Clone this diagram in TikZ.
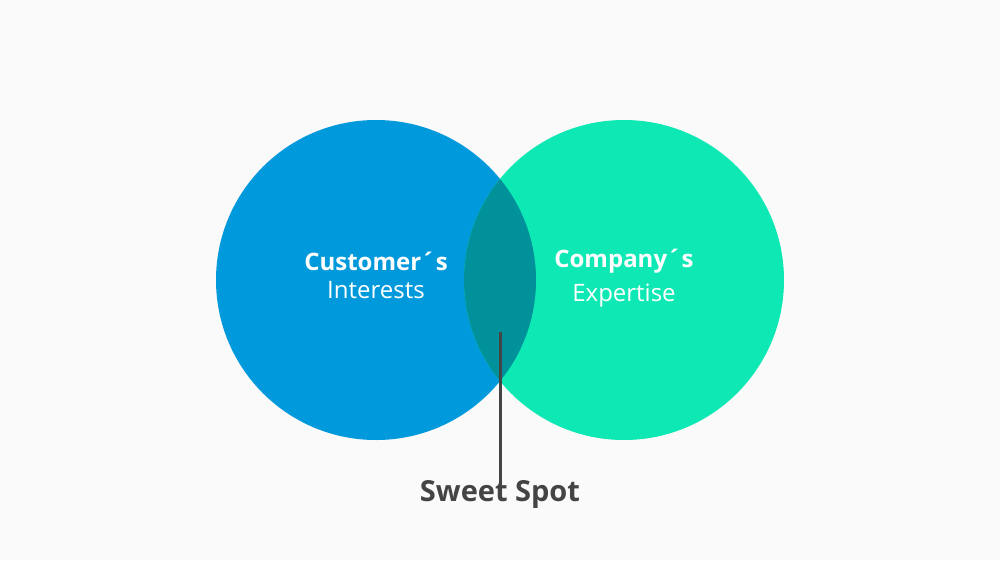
\documentclass[tikz,border=0pt]{standalone}
\usepackage{fontspec}
\setmainfont{Open Sans}
\usetikzlibrary{positioning}
\definecolor{custblue}{HTML}{0099DB}
\definecolor{compgreen}{HTML}{0DE8B4}
\definecolor{spotteal}{HTML}{00919A}
\definecolor{labelgray}{HTML}{444444}
\definecolor{bggray}{HTML}{FAFAFA}
\tikzset{
    venn/.style = {circle, minimum size=320pt, inner sep=0pt},
    title/.style = {text=white, font=\fontsize{24}{28}\selectfont\bfseries},
    sub/.style = {text=white, font=\fontsize{24}{28}\selectfont},
}
\begin{document}
\begin{tikzpicture}[x=1pt, y=-1pt]
    % background
    \fill[bggray] (0,0) rectangle (1000,560);
    \useasboundingbox (0,0) rectangle (1000,560);
    % circles
    \node[venn, fill=custblue] (cust) at (376,280) {};
    \node[venn, fill=compgreen] (comp) at (624,280) {};
    \begin{scope}
        \clip (376,280) circle (160);
        \fill[spotteal] (624,280) circle (160);
    \end{scope}
    % labels
    \node[title] (custT) at (376,261) {Customer´s};
    \node[sub, below=4pt of custT] (custS) {Interests};
    \node[title] (compT) at (624,261) {Company´s};
    \node[sub, below=4pt of compT] (compS) {Expertise};
    % pointer
    \coordinate (spot) at (500,332);
    \node[text=labelgray, font=\fontsize{29}{34}\selectfont\bfseries] (sweet) at (500,494) {Sweet Spot};
    \draw[labelgray, line width=3pt] (spot) -- ([yshift=-16pt]sweet.north);
\end{tikzpicture}
\end{document}
